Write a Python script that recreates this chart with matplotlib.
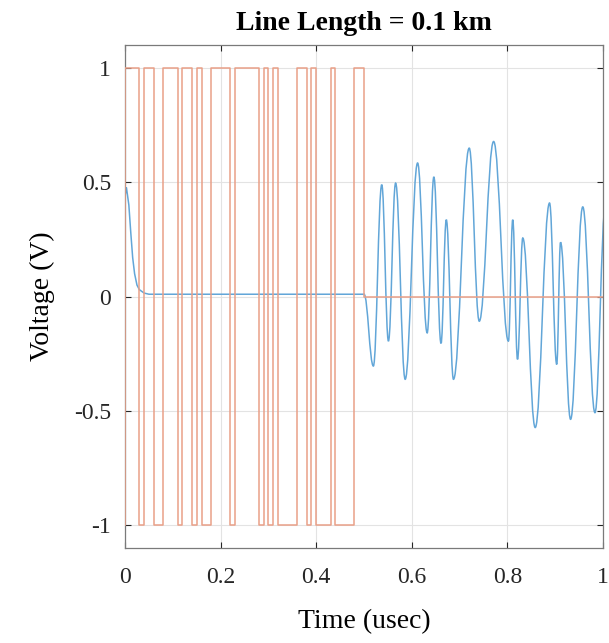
import numpy as np
import matplotlib
matplotlib.use('Agg')
import matplotlib.pyplot as plt
from matplotlib.path import Path
from matplotlib.patches import PathPatch

# transmitted bits (orange), 0.01 usec per bit, then line idles at 0
bit_period = 0.01
bits = [1, 1, 1, -1, 1, 1, -1, -1, 1, 1, 1, -1, 1, 1, -1, 1, -1, -1,
        1, 1, 1, 1, -1, 1, 1, 1, 1, 1, -1, 1, -1, 1, -1, -1, -1, -1,
        1, 1, -1, 1, -1, -1, -1, 1, -1, -1, -1, -1, 1, 1]
start_level = -1
idle_level = 0
t_end = 1.0

# received voltage (blue): initial decay
decay_t = [0.0, 0.003, 0.008, 0.012, 0.016, 0.020, 0.025, 0.030, 0.040, 0.050, 0.500]
decay_v = [0.44, 0.476, 0.40, 0.28, 0.17, 0.10, 0.05, 0.03, 0.015, 0.01, 0.01]

# received voltage after 0.5 usec: peaks and troughs
ext_t = [0.500, 0.5195, 0.537, 0.551, 0.566, 0.586, 0.612, 0.632, 0.646, 0.661,
         0.672, 0.687, 0.720, 0.741, 0.771, 0.802, 0.811, 0.821, 0.832, 0.858,
         0.888, 0.903, 0.911, 0.932, 0.9575, 0.983, 1.005]
ext_v = [0.01, -0.304, 0.489, -0.195, 0.496, -0.362, 0.584, -0.159, 0.523, -0.205,
         0.336, -0.362, 0.649, -0.108, 0.678, -0.195, 0.336, -0.275, 0.256, -0.573,
         0.409, -0.297, 0.237, -0.537, 0.392, -0.508, 0.40]

xticks = [0, 0.2, 0.4, 0.6, 0.8, 1]
xticklabels = ['0', '0.2', '0.4', '0.6', '0.8', '1']
yticks = [-1, -0.5, 0, 0.5, 1]
yticklabels = ['-1', '-0.5', '0', '0.5', '1']

blue = '#62a6d8'
orange = '#e9a088'
axcolor = '#262626'

plt.rcParams['font.family'] = ['Liberation Serif', 'DejaVu Serif']

fig = plt.figure(figsize=(6.09, 6.43), dpi=100)
ax = fig.add_axes([0.2053, 0.1477, 0.785, 0.7823])

# blue trace
ax.plot(decay_t, decay_v, color=blue, lw=1.1, zorder=2)
verts = [(ext_t[0], ext_v[0])]
codes = [Path.MOVETO]
k = 0.4
for i in range(1, len(ext_t)):
    t0, v0 = ext_t[i - 1], ext_v[i - 1]
    t1, v1 = ext_t[i], ext_v[i]
    dt = t1 - t0
    verts += [(t0 + k * dt, v0), (t1 - k * dt, v1), (t1, v1)]
    codes += [Path.CURVE4] * 3
ax.add_patch(PathPatch(Path(verts, codes), fill=False, edgecolor=blue, lw=1.1, zorder=2))

# orange bit stream
tb = [0.0] + list(np.arange(len(bits) + 1) * bit_period) + [t_end]
vb = [start_level] + bits + [idle_level, idle_level]
ax.plot(tb, vb, color=orange, lw=1.1, drawstyle='steps-post', zorder=3)

ax.set_xlim(0, 1)
ax.set_ylim(-1.1, 1.1)
ax.set_xticks(xticks)
ax.set_xticklabels(xticklabels)
ax.set_yticks(yticks)
ax.set_yticklabels(yticklabels)
ax.grid(True, color='#e3e3e3', lw=0.8)
ax.set_axisbelow(True)
ax.tick_params(direction='in', length=4, colors=axcolor, labelsize=17,
               top=True, right=True)
ax.tick_params(axis='x', pad=14)
ax.tick_params(axis='y', pad=10)
for s in ax.spines.values():
    s.set_color('#7a7a7a')
    s.set_linewidth(0.9)

ax.set_title('Line Length = 0.1 km', fontsize=20, fontweight='bold', pad=11)
ax.set_xlabel('Time (usec)', fontsize=20, labelpad=15)
ax.set_ylabel('Voltage (V)', fontsize=20, labelpad=14)

fig.savefig('out.png')
